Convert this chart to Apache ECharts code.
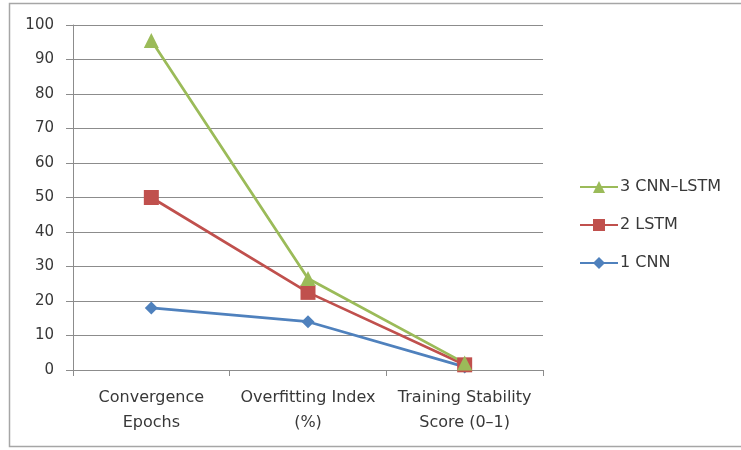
<!DOCTYPE html>
<html>
<head>
<meta charset="utf-8">
<script src="https://cdn.jsdelivr.net/npm/echarts@6/dist/echarts.min.js"></script>
<style>
  html, body { margin: 0; padding: 0; background: #fff; }
  #chart { width: 741px; height: 450px; }
</style>
</head>
<body>
<div id="chart"></div>
<script>
// Metric categories along the x axis
const categories = ['Convergence\nEpochs', 'Overfitting Index\n(%)', 'Training Stability\nScore (0–1)'];

// Model results per metric
const cnnValues = [18, 14, 0.9];
const lstmValues = [50, 22.5, 1.5];
const cnnLstmValues = [95.5, 26.5, 2];

// Series names
const seriesNames = ['1 CNN', '2 LSTM', '3 CNN–LSTM'];

// Y axis range
const yMin = 0, yMax = 100, yStep = 10;

const font = 'DejaVu Sans';
const textColor = '#383838';
const gridColor = '#8c8c8c';

const chart = echarts.init(document.getElementById('chart'), null, { renderer: 'canvas' });

chart.setOption({
  animation: false,
  backgroundColor: '#fff',
  textStyle: { fontFamily: font },
  graphic: [{
    type: 'rect',
    shape: { x: 9.5, y: 3.5, width: 745, height: 443 },
    style: { fill: 'none', stroke: '#a6a6a6', lineWidth: 1.5 },
    silent: true
  }],
  grid: { left: 73, top: 25, right: 198, bottom: 80, containLabel: false },
  legend: {
    orient: 'vertical',
    left: 574,
    top: 174,
    itemWidth: 38,
    itemHeight: 15,
    itemGap: 22,
    data: ['3 CNN–LSTM', '2 LSTM', '1 CNN'],
    textStyle: { fontFamily: font, fontSize: 16, color: textColor, padding: [0, 0, 0, -3] }
  },
  xAxis: {
    type: 'category',
    data: categories,
    boundaryGap: true,
    axisLine: { show: true, lineStyle: { color: gridColor, width: 1 } },
    axisTick: { show: true, length: 6, alignWithLabel: false, lineStyle: { color: gridColor } },
    axisLabel: {
      color: textColor, fontFamily: font, fontSize: 16,
      margin: 15, lineHeight: 25, interval: 0
    },
    splitLine: { show: false }
  },
  yAxis: {
    type: 'value',
    min: yMin, max: yMax, interval: yStep,
    axisLine: { show: true, lineStyle: { color: gridColor, width: 1 } },
    axisTick: { show: true, length: 7, lineStyle: { color: gridColor } },
    axisLabel: { color: textColor, fontFamily: font, fontSize: 15, margin: 19 },
    splitLine: { show: true, lineStyle: { color: gridColor, width: 1 } }
  },
  series: [
    {
      name: seriesNames[0], type: 'line', data: cnnValues,
      symbol: 'diamond', symbolSize: 13,
      lineStyle: { color: '#4f81bd', width: 2.75 },
      itemStyle: { color: '#4f81bd' }
    },
    {
      name: seriesNames[1], type: 'line', data: lstmValues,
      symbol: 'rect', symbolSize: 15,
      lineStyle: { color: '#c0504d', width: 2.75 },
      itemStyle: { color: '#c0504d' }
    },
    {
      name: seriesNames[2], type: 'line', data: cnnLstmValues,
      symbol: 'triangle', symbolSize: 15,
      lineStyle: { color: '#9bbb59', width: 2.75 },
      itemStyle: { color: '#9bbb59' }
    }
  ]
});
</script>
</body>
</html>
